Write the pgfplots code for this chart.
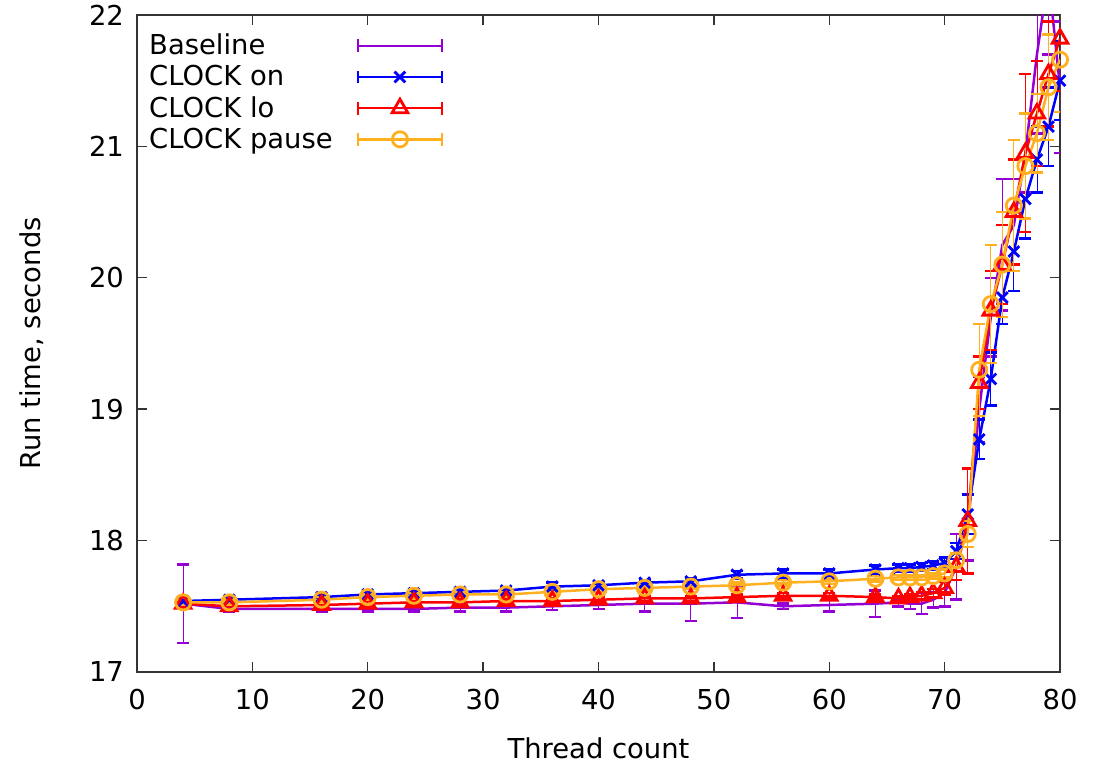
\documentclass[border=0pt]{standalone}
\usepackage{fontspec}
\setmainfont{DejaVu Sans}
\usepackage{pgfplots}
\usepackage{pgfplotstable}
\pgfplotsset{compat=1.18}

\definecolor{cbase}{RGB}{148,0,211}
\definecolor{con}{RGB}{0,0,255}
\definecolor{clo}{RGB}{255,0,0}
\definecolor{cpause}{RGB}{255,176,32}

\pgfplotstableread{
x y e
4 17.52 0.30
8 17.48 0.02
16 17.48 0.02
20 17.48 0.02
24 17.48 0.02
28 17.49 0.03
32 17.49 0.03
36 17.50 0.03
40 17.51 0.03
44 17.52 0.06
48 17.52 0.13
52 17.53 0.12
56 17.50 0.02
60 17.51 0.05
64 17.52 0.10
66 17.53 0.03
67 17.52 0.04
68 17.52 0.08
69 17.55 0.06
70 17.60 0.10
71 17.80 0.25
72 18.10 0.25
73 19.00 0.25
74 19.70 0.30
75 20.25 0.50
76 20.40 0.35
77 20.95 0.30
78 21.70 0.60
79 22.30 0.60
80 21.45 0.50
}\baseline

\pgfplotstableread{
x y e
4 17.54 0.02
8 17.55 0.02
16 17.57 0.02
20 17.59 0.02
24 17.60 0.02
28 17.61 0.02
32 17.62 0.02
36 17.65 0.03
40 17.66 0.02
44 17.68 0.02
48 17.69 0.02
52 17.74 0.03
56 17.75 0.03
60 17.75 0.03
64 17.78 0.03
66 17.79 0.03
67 17.79 0.03
68 17.80 0.03
69 17.81 0.03
70 17.83 0.04
71 17.92 0.06
72 18.20 0.15
73 18.77 0.15
74 19.23 0.20
75 19.85 0.20
76 20.20 0.30
77 20.60 0.30
78 20.90 0.25
79 21.15 0.30
80 21.50 0.30
}\clockon

\pgfplotstableread{
x y e
4 17.52 0.02
8 17.50 0.02
16 17.51 0.02
20 17.52 0.02
24 17.53 0.02
28 17.53 0.02
32 17.54 0.02
36 17.54 0.02
40 17.55 0.02
44 17.56 0.02
48 17.56 0.02
52 17.57 0.02
56 17.58 0.02
60 17.58 0.02
64 17.57 0.02
66 17.56 0.02
67 17.57 0.02
68 17.58 0.03
69 17.60 0.03
70 17.64 0.05
71 17.80 0.10
72 18.15 0.40
73 19.20 0.20
74 19.75 0.30
75 20.10 0.30
76 20.50 0.40
77 20.95 0.60
78 21.25 0.40
79 21.55 0.40
80 21.82 0.40
}\clocklo

\pgfplotstableread{
x y e
4 17.53 0.02
8 17.53 0.02
16 17.55 0.02
20 17.57 0.02
24 17.58 0.02
28 17.59 0.02
32 17.59 0.02
36 17.61 0.02
40 17.63 0.02
44 17.64 0.02
48 17.65 0.02
52 17.66 0.02
56 17.68 0.02
60 17.69 0.02
64 17.71 0.02
66 17.72 0.02
67 17.72 0.02
68 17.72 0.02
69 17.73 0.02
70 17.75 0.03
71 17.85 0.05
72 18.05 0.10
73 19.30 0.35
74 19.80 0.45
75 20.10 0.40
76 20.55 0.50
77 20.85 0.40
78 21.10 0.30
79 21.45 0.40
80 21.66 0.40
}\clockpause

\begin{document}
\begin{tikzpicture}
\useasboundingbox (-68.5pt,-46.5pt) rectangle (485pt,336pt);
\begin{axis}[
  at={(0,0)}, anchor=south west,
  scale only axis,
  width=461.5pt, height=328.5pt,
  xmin=0, xmax=80, ymin=17, ymax=22,
  xtick={0,10,...,80}, ytick={17,18,...,22},
  tick align=inside,
  major tick length=5pt,
  axis line style={line width=0.7pt, black!80},
  every tick/.style={line width=0.7pt, black!80},
  font=\fontsize{13.7}{16}\selectfont,
  /pgf/number format/assume math mode=true,
  xticklabel style={yshift=-5pt},
  yticklabel style={xshift=-3pt},
  xlabel={Thread count},
  ylabel={Run time, seconds},
  xlabel style={at={(axis description cs:0.5,-0.116)}, anchor=center},
  ylabel style={at={(axis description cs:-0.114,0.5)}, anchor=center},
  legend plot pos=right,
  legend cell align=left,
  legend style={at={(axis description cs:0.002,0.984)}, anchor=north west,
    draw=none, fill=none, row sep=-0.2pt,
    font=\fontsize{13.7}{16}\selectfont},
  legend image code/.code={
    \path (0pt,0pt);
    \draw[#1, mark repeat=2, mark phase=2] plot coordinates {(10pt,0pt)(31pt,0pt)(52pt,0pt)};
    \draw[#1] (10pt,-3.2pt) -- (10pt,3.2pt) (52pt,-3.2pt) -- (52pt,3.2pt);
  },
  every axis plot/.append style={line width=1.25pt},
]
\addplot[cbase, mark=none, error bars/y dir=both, error bars/y explicit,
  error bars/error mark options={rotate=90, mark size=3pt, line width=1.25pt}]
  table[x=x, y=y, y error=e] {\baseline};
\addlegendentry{Baseline}
\addplot[con, mark=x, mark size=3.8pt, mark options={solid, line width=1.4pt},
  error bars/y dir=both, error bars/y explicit,
  error bars/error mark options={rotate=90, mark size=3pt, line width=1.25pt}]
  table[x=x, y=y, y error=e] {\clockon};
\addlegendentry{CLOCK on}
\addplot[clo, mark=triangle, mark size=4.5pt, mark options={solid, line width=1.4pt},
  error bars/y dir=both, error bars/y explicit,
  error bars/error mark options={rotate=90, mark size=3pt, line width=1.25pt}]
  table[x=x, y=y, y error=e] {\clocklo};
\addlegendentry{CLOCK lo}
\addplot[cpause, mark=o, mark size=3.8pt, mark options={solid, line width=1.4pt},
  error bars/y dir=both, error bars/y explicit,
  error bars/error mark options={rotate=90, mark size=3pt, line width=1.25pt}]
  table[x=x, y=y, y error=e] {\clockpause};
\addlegendentry{CLOCK pause}
\end{axis}
\end{tikzpicture}
\end{document}
